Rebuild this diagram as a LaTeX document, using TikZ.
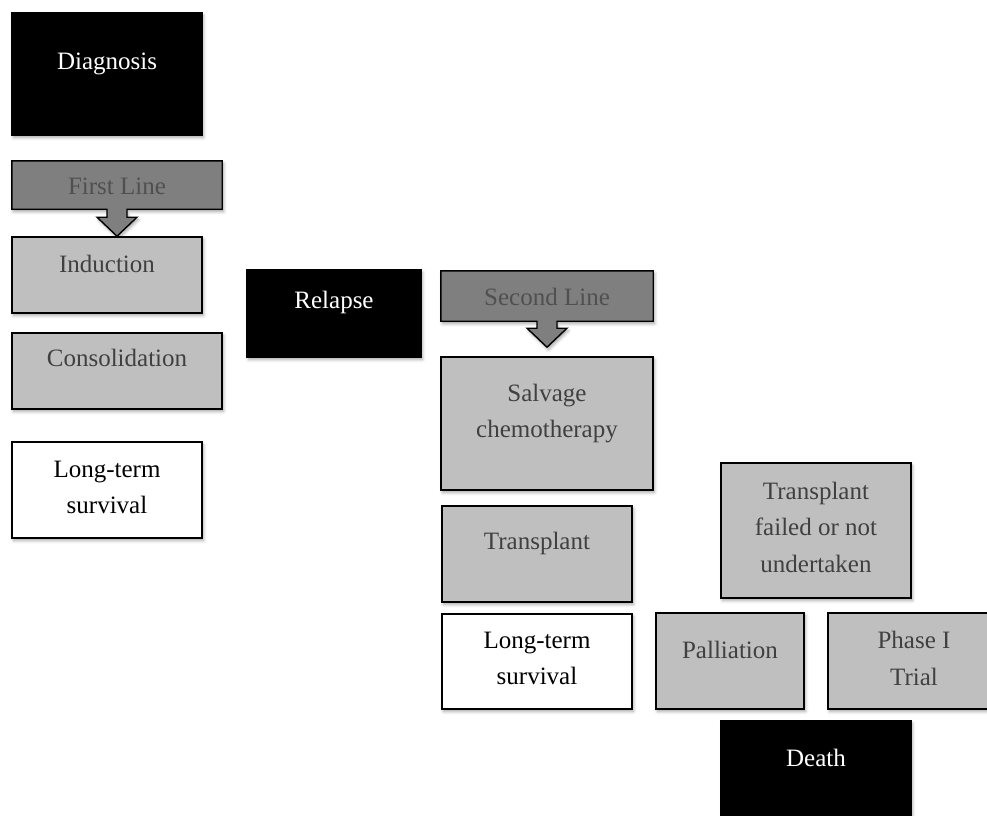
\documentclass[tikz,border=0pt]{standalone}
\usepackage{fontspec}
\setmainfont{Liberation Serif}
\usetikzlibrary{shadows.blur,backgrounds}

\definecolor{paleGrey}{HTML}{BFBFBF}
\definecolor{midGrey}{HTML}{7F7F7F}
\definecolor{paleInk}{HTML}{404040}
\definecolor{midInk}{HTML}{505050}

\tikzset{
  x=1pt, y=-1pt,
  boxshadow/.style={blur shadow={shadow xshift=1.5pt, shadow yshift=-2.5pt,
      shadow blur radius=3pt, shadow opacity=35}},
  panel/.style={rectangle, draw=black, line width=1.4pt, inner sep=0pt,
      boxshadow},
  blackbox/.style={panel, fill=black},
  greybox/.style={panel, fill=paleGrey},
  whitebox/.style={panel, fill=white},
  label/.style={font=\fontsize{25}{36.5}\selectfont, align=center, inner sep=0pt},
  onblack/.style={label, text=white},
  ongrey/.style={label, text=paleInk},
  onwhite/.style={label, text=black},
  onmid/.style={label, text=midInk},
  callout/.style={fill=midGrey, draw=black, line width=1.4pt, line join=miter,
      boxshadow},
}

\begin{document}
\begin{tikzpicture}
\clip (0,0) rectangle (987,815);

% ---- first line of treatment ----
\node[blackbox, minimum width=190, minimum height=122] (diag) at (107,74) {};
\node[onblack] (diagT) at ([yshift=-52pt]diag.north) {Diagnosis};

\node[inner sep=0pt, minimum width=210, minimum height=48] (fl) at (117,185) {};
\node[onmid] (flT) at ([yshift=-1pt]fl.center) {First Line};

\node[greybox, minimum width=190, minimum height=76] (ind) at (107,275) {};
\node[ongrey] (indT) at ([yshift=-28pt]ind.north) {Induction};

\node[greybox, minimum width=210, minimum height=76] (cons) at (117,371) {};
\node[ongrey] (consT) at ([yshift=-26pt]cons.north) {Consolidation};

\node[whitebox, minimum width=190, minimum height=96] (lts1) at (107,490) {};
\node[onwhite] (lts1T) at ([yshift=-46pt]lts1.north) {Long-term\\survival};

% ---- relapse and second line ----
\node[blackbox, minimum width=174, minimum height=87] (rel) at (334,313.5) {};
\node[onblack] (relT) at ([yshift=-33pt]rel.north) {Relapse};

\node[inner sep=0pt, minimum width=212, minimum height=50] (sl) at (547,296) {};
\node[onmid] (slT) at ([yshift=-26pt]sl.north) {Second Line};

\node[greybox, minimum width=212, minimum height=133] (salv) at (547,423.5) {};
\node[ongrey] (salvT) at ([yshift=-57pt]salv.north) {Salvage\\chemotherapy};

\node[greybox, minimum width=190, minimum height=96] (tx) at (537,554) {};
\node[ongrey] (txT) at ([yshift=-38pt]tx.north) {Transplant};

\node[whitebox, minimum width=190, minimum height=95] (lts2) at (537,661.5) {};
\node[onwhite] (lts2T) at ([yshift=-45pt]lts2.north) {Long-term\\survival};

% ---- failed transplant branch ----
\node[greybox, minimum width=190, minimum height=135] (txf) at (816,530.5) {};
\node[ongrey] (txfT) at ([yshift=-65pt]txf.north) {Transplant\\failed or not\\undertaken};

\node[greybox, minimum width=148, minimum height=96] (pall) at (730,661) {};
\node[ongrey] (pallT) at ([yshift=-38pt]pall.north) {Palliation};

\node[greybox, minimum width=172, minimum height=96] (ph1) at (914,661) {};
\node[ongrey] (ph1T) at ([yshift=-46pt]ph1.north) {Phase I\\Trial};

\node[blackbox, minimum width=190, minimum height=109] (death) at (816,775.5) {};
\node[onblack] (deathT) at ([yshift=-38pt]death.north) {Death};

% ---- header panels with their down-pointing arrows ----
\begin{scope}[on background layer]
\draw[callout] (fl.north west) -- (fl.north east) -- (fl.south east)
  -- ([xshift=10pt]fl.south) -- ++(0,8) -- ++(10,0) -- ++(-20,19)
  -- ++(-20,-19) -- ++(10,0) -- ([xshift=-10pt]fl.south)
  -- (fl.south west) -- cycle;
\draw[callout] (sl.north west) -- (sl.north east) -- (sl.south east)
  -- ([xshift=10pt]sl.south) -- ++(0,7) -- ++(10,0) -- ++(-20,19)
  -- ++(-20,-19) -- ++(10,0) -- ([xshift=-10pt]sl.south)
  -- (sl.south west) -- cycle;
\end{scope}
\end{tikzpicture}
\end{document}
